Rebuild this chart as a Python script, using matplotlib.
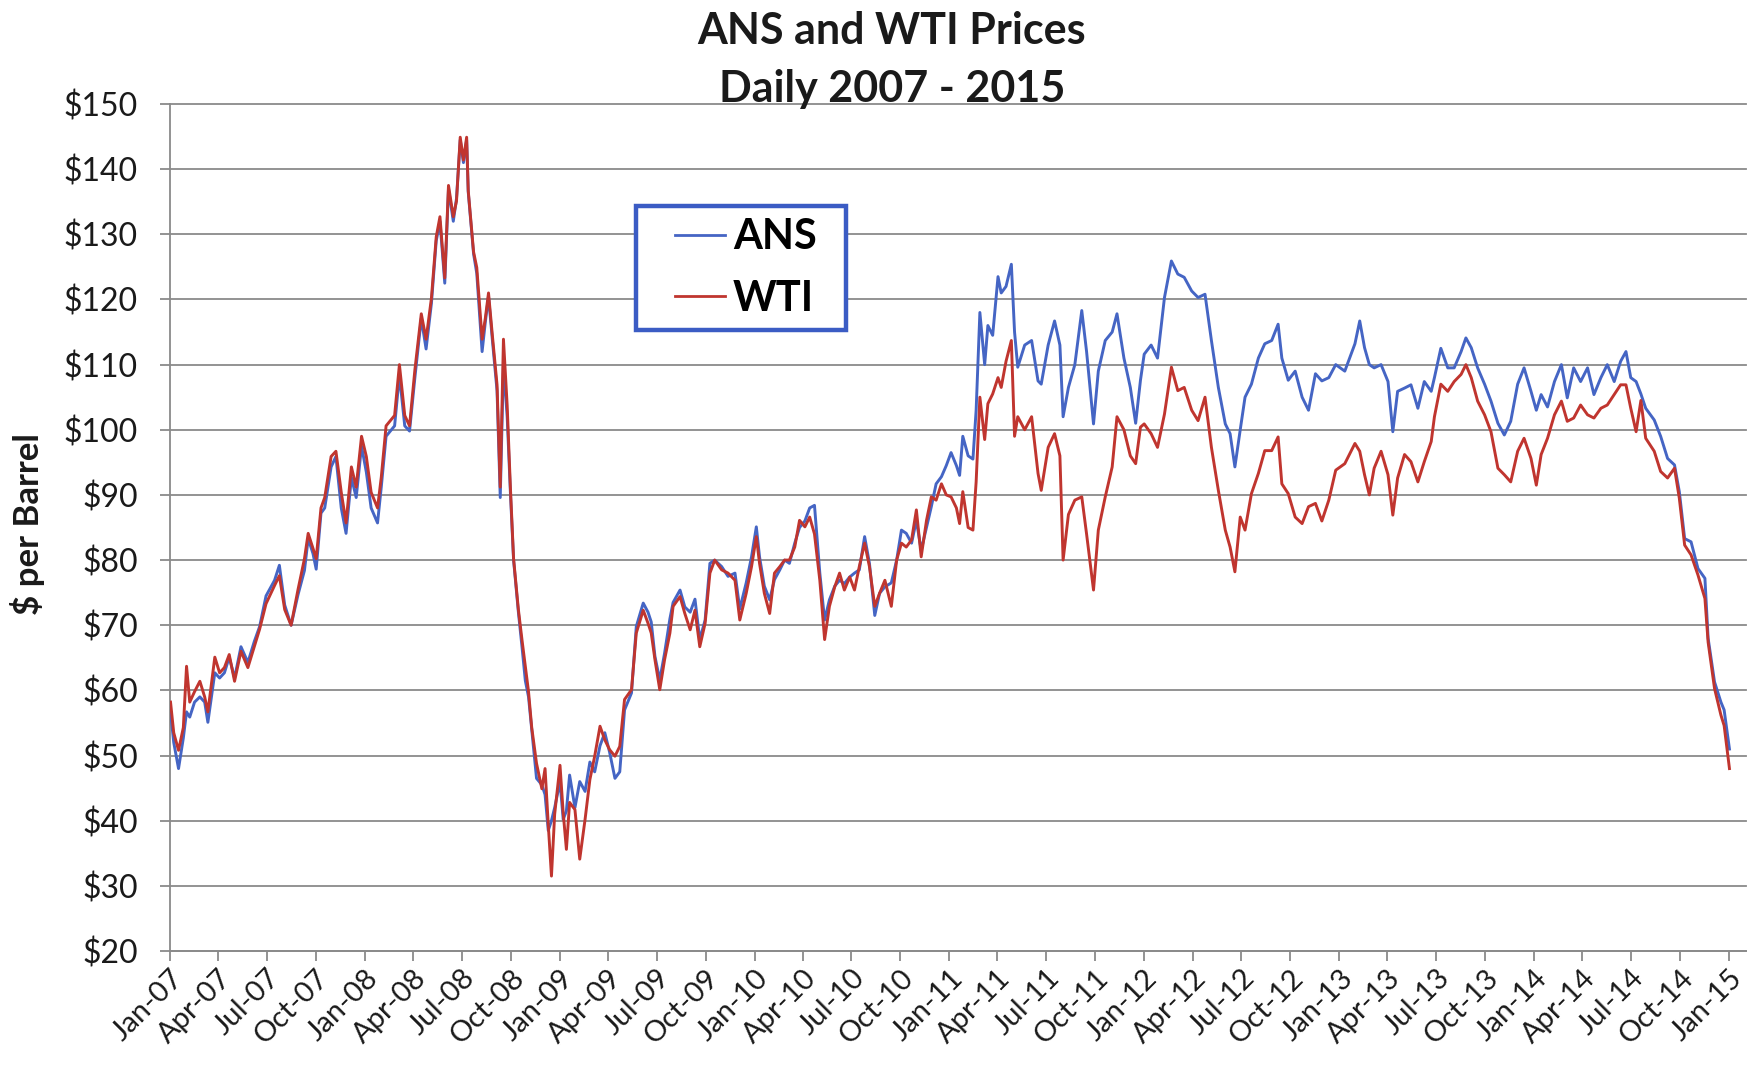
import matplotlib
matplotlib.use("Agg")
import matplotlib.pyplot as plt
import matplotlib.dates as mdates
from matplotlib.ticker import FuncFormatter
from matplotlib.patches import Rectangle
import pandas as pd

plt.rcParams['text.parse_math'] = False
plt.rcParams['font.family'] = ['Lato', 'DejaVu Sans']

# ---------------- data ----------------
dates_07_08 = [
    "2007-01-02", "2007-01-08", "2007-01-17", "2007-01-26", "2007-02-01", "2007-02-07", "2007-02-16", "2007-02-26",
    "2007-03-07", "2007-03-13", "2007-03-26", "2007-04-04", "2007-04-13", "2007-04-22", "2007-05-02", "2007-05-14",
    "2007-05-27", "2007-06-08", "2007-06-18", "2007-06-30", "2007-07-16", "2007-07-25", "2007-08-04", "2007-08-16",
    "2007-08-29", "2007-09-10", "2007-09-17", "2007-09-26", "2007-10-02", "2007-10-11", "2007-10-18", "2007-10-30",
    "2007-11-08", "2007-11-18", "2007-11-27", "2007-12-07", "2007-12-16", "2007-12-26",
    "2008-01-04", "2008-01-13", "2008-01-25", "2008-02-01", "2008-02-10", "2008-02-26", "2008-03-06", "2008-03-16",
    "2008-03-25", "2008-04-04", "2008-04-16", "2008-04-25", "2008-05-05", "2008-05-14", "2008-05-21", "2008-05-30",
    "2008-06-06", "2008-06-15", "2008-06-21", "2008-06-28", "2008-07-04", "2008-07-10", "2008-07-13", "2008-07-23",
    "2008-07-29", "2008-08-08", "2008-08-14", "2008-08-20", "2008-08-27", "2008-09-05", "2008-09-11", "2008-09-17",
    "2008-09-24", "2008-09-30", "2008-10-06", "2008-10-15", "2008-10-22", "2008-10-28", "2008-11-03", "2008-11-09",
    "2008-11-18", "2008-11-28", "2008-12-04", "2008-12-10", "2008-12-16", "2008-12-22",
]
wti_07_08 = [
    58.2, 53.5, 50.8, 54.3, 63.7, 58.2, 59.8, 61.4,
    59.0, 56.7, 65.1, 62.7, 63.5, 65.5, 61.4, 66.0,
    63.5, 66.7, 69.4, 73.3, 76.1, 77.6, 72.4, 70.0,
    75.5, 80.2, 84.1, 81.8, 80.2, 88.0, 89.6, 95.9,
    96.7, 90.4, 85.7, 94.3, 91.2, 99.0,
    95.9, 90.4, 88.0, 92.7, 100.6, 102.2, 110.0, 102.2,
    100.6, 109.2, 117.8, 113.9, 120.2, 129.6, 132.7, 123.3,
    137.5, 132.7, 135.1, 144.9, 141.4, 144.9, 136.7, 127.3,
    124.9, 113.9, 117.1, 121.0, 114.7, 106.9, 91.2, 113.9,
    103.7, 91.2, 80.2, 72.4, 67.6, 63.7, 59.8, 54.3,
    48.8, 44.9, 48.0, 39.4, 31.5, 41.0,
]
ans_07_08 = [
    56.7, 52.0, 48.0, 52.7, 56.7, 55.9, 58.2, 59.0,
    58.2, 55.1, 62.7, 61.9, 62.7, 65.1, 61.9, 66.7,
    64.3, 67.5, 69.8, 74.5, 76.9, 79.2, 73.1, 70.0,
    74.7, 78.4, 83.3, 81.0, 78.6, 87.2, 88.0, 94.3,
    95.9, 88.0, 84.1, 92.7, 89.6, 97.5,
    93.5, 88.0, 85.7, 91.2, 99.0, 100.6, 108.4, 100.6,
    99.8, 108.0, 117.1, 112.4, 119.4, 129.0, 132.0, 122.5,
    137.0, 132.0, 135.5, 144.5, 141.0, 144.5, 136.5, 127.0,
    124.0, 112.0, 116.5, 120.5, 114.0, 106.0, 89.6, 110.0,
    102.0, 90.4, 80.0, 72.0, 66.5, 61.5, 59.0, 54.0,
    46.5, 45.5, 44.0, 38.5, 40.0, 42.0,
]

dates_09_10 = [
    "2009-01-01", "2009-01-07", "2009-01-13", "2009-01-19", "2009-01-29", "2009-02-07", "2009-02-17", "2009-02-26",
    "2009-03-07", "2009-03-17", "2009-03-26", "2009-04-04", "2009-04-14", "2009-04-23", "2009-05-02", "2009-05-15",
    "2009-05-24", "2009-06-06", "2009-06-15", "2009-06-21", "2009-06-28", "2009-07-07", "2009-07-16", "2009-07-26",
    "2009-08-01", "2009-08-14", "2009-08-23", "2009-09-02", "2009-09-11", "2009-09-20", "2009-09-30", "2009-10-09",
    "2009-10-18", "2009-10-31", "2009-11-12", "2009-11-25", "2009-12-04", "2009-12-16", "2009-12-26",
    "2010-01-04", "2010-01-10", "2010-01-19", "2010-01-29", "2010-02-07", "2010-02-17", "2010-02-26", "2010-03-07",
    "2010-03-17", "2010-03-26", "2010-04-05", "2010-04-14", "2010-04-23", "2010-05-03", "2010-05-12", "2010-05-21",
    "2010-05-31", "2010-06-09", "2010-06-18", "2010-06-28", "2010-07-07", "2010-07-16", "2010-07-26", "2010-08-04",
    "2010-08-14", "2010-08-23", "2010-09-02", "2010-09-14", "2010-09-24", "2010-10-03", "2010-10-12", "2010-10-22",
    "2010-10-31", "2010-11-09", "2010-11-19", "2010-11-28", "2010-12-07", "2010-12-17", "2010-12-26",
]
wti_09_10 = [
    48.5, 41.2, 35.6, 42.8, 41.7, 34.1, 40.2, 46.3,
    49.9, 54.5, 52.4, 50.9, 49.9, 51.4, 58.6, 60.1,
    68.8, 72.3, 70.3, 68.8, 64.7, 60.1, 64.7, 68.8,
    72.9, 74.4, 71.8, 69.3, 72.3, 66.7, 70.3, 78.0,
    80.0, 78.5, 78.0, 76.9, 70.8, 74.9, 79.0,
    83.6, 79.5, 74.9, 71.8, 78.0, 79.0, 80.0, 80.0,
    82.0, 86.1, 85.1, 86.6, 84.0, 76.9, 67.8, 72.9,
    75.9, 78.0, 75.4, 77.4, 75.4, 79.0, 82.6, 79.0,
    72.9, 74.9, 76.9, 72.9, 80.0, 82.6, 82.0, 83.1,
    87.7, 80.5, 86.1, 89.7, 89.2, 91.7, 90.0,
]
ans_09_10 = [
    46.0, 40.2, 41.5, 47.0, 42.0, 46.0, 44.5, 49.0,
    47.5, 51.5, 53.5, 50.5, 46.5, 47.5, 57.0, 59.6,
    69.8, 73.4, 72.0, 70.5, 65.2, 61.6, 65.7, 71.0,
    73.5, 75.4, 72.8, 72.0, 74.0, 67.8, 70.8, 79.5,
    80.0, 79.0, 77.5, 78.0, 72.5, 76.5, 80.5,
    85.1, 80.5, 76.0, 73.9, 77.0, 78.5, 80.0, 79.5,
    82.6, 85.0, 86.0, 88.0, 88.4, 78.0, 70.8, 73.9,
    76.0, 76.9, 76.4, 77.4, 78.0, 78.5, 83.6, 79.5,
    71.5, 74.9, 75.9, 76.5, 80.0, 84.6, 84.1, 82.6,
    86.1, 81.5, 85.0, 88.2, 91.7, 92.8, 94.5,
]

dates_11_12 = [
    "2011-01-04", "2011-01-14", "2011-01-20", "2011-01-26", "2011-02-05", "2011-02-14", "2011-02-20", "2011-02-27",
    "2011-03-08", "2011-03-14", "2011-03-23", "2011-04-02", "2011-04-08", "2011-04-17", "2011-04-27", "2011-05-03",
    "2011-05-09", "2011-05-22", "2011-06-04", "2011-06-16", "2011-06-22", "2011-07-05", "2011-07-17", "2011-07-27",
    "2011-08-02", "2011-08-12", "2011-08-24", "2011-09-06", "2011-09-15", "2011-09-28", "2011-10-07", "2011-10-20",
    "2011-11-02", "2011-11-11", "2011-11-24", "2011-12-06", "2011-12-16", "2011-12-25",
    "2012-01-01", "2012-01-14", "2012-01-26", "2012-02-08", "2012-02-21", "2012-03-04", "2012-03-16", "2012-03-30",
    "2012-04-11", "2012-04-24", "2012-05-06", "2012-05-19", "2012-06-01", "2012-06-10", "2012-06-19", "2012-06-29",
    "2012-07-08", "2012-07-20", "2012-08-02", "2012-08-14", "2012-08-27", "2012-09-08", "2012-09-15", "2012-09-27",
    "2012-10-10", "2012-10-23", "2012-11-04", "2012-11-17", "2012-11-29", "2012-12-12", "2012-12-25",
]
wti_11_12 = [
    89.7, 88.0, 85.6, 90.5, 85.0, 84.6, 92.0, 105.0,
    98.5, 104.0, 105.5, 108.0, 106.5, 110.5, 113.7, 99.0,
    102.0, 100.0, 102.0, 93.3, 90.7, 97.3, 99.4, 96.0,
    80.0, 87.0, 89.2, 89.7, 84.0, 75.4, 84.6, 89.7,
    94.3, 102.0, 100.0, 96.0, 94.8, 100.4,
    100.9, 99.4, 97.3, 102.4, 109.6, 106.0, 106.5, 103.0,
    101.4, 105.0, 97.3, 90.7, 84.6, 82.0, 78.2, 86.6,
    84.6, 90.2, 93.3, 96.8, 96.8, 98.9, 91.7, 90.2,
    86.6, 85.6, 88.2, 88.7, 86.0, 89.2, 93.8,
]
ans_11_12 = [
    96.5, 94.5, 93.0, 99.0, 96.0, 95.5, 103.0, 118.0,
    110.0, 116.0, 114.5, 123.5, 121.0, 122.0, 125.4, 115.0,
    109.6, 113.0, 113.7, 107.5, 107.0, 113.0, 116.7, 113.0,
    102.0, 106.5, 110.0, 118.3, 112.0, 100.9, 109.0, 113.7,
    115.0, 117.8, 111.0, 106.5, 101.0, 107.6,
    111.6, 113.0, 111.0, 120.3, 125.9, 123.9, 123.4, 121.3,
    120.3, 120.8, 113.7, 106.5, 100.9, 99.4, 94.3, 100.0,
    105.0, 107.0, 111.0, 113.2, 113.7, 116.2, 111.0, 107.6,
    109.0, 105.0, 103.0, 108.6, 107.5, 108.0, 110.0,
]

dates_13_15 = [
    "2013-01-11", "2013-01-30", "2013-02-08", "2013-02-17", "2013-02-26", "2013-03-07", "2013-03-20", "2013-04-02",
    "2013-04-11", "2013-04-20", "2013-05-03", "2013-05-15", "2013-05-28", "2013-06-09", "2013-06-22", "2013-06-28",
    "2013-07-10", "2013-07-23", "2013-08-04", "2013-08-17", "2013-08-26", "2013-09-05", "2013-09-17", "2013-09-30",
    "2013-10-12", "2013-10-25", "2013-11-06", "2013-11-18", "2013-12-01", "2013-12-13", "2013-12-26",
    "2014-01-05", "2014-01-14", "2014-01-26", "2014-02-08", "2014-02-21", "2014-03-04", "2014-03-16", "2014-03-29",
    "2014-04-11", "2014-04-23", "2014-05-06", "2014-05-18", "2014-05-31", "2014-06-12", "2014-06-22", "2014-07-01",
    "2014-07-11", "2014-07-20", "2014-07-29", "2014-08-14", "2014-08-26", "2014-09-08", "2014-09-21", "2014-09-30",
    "2014-10-10", "2014-10-22", "2014-11-04", "2014-11-17", "2014-11-23", "2014-12-05", "2014-12-17", "2014-12-23",
    "2015-01-02",
]
wti_13_15 = [
    94.8, 97.9, 96.7, 93.1, 90.0, 94.1, 96.7, 93.1,
    86.9, 92.6, 96.2, 95.1, 92.0, 95.1, 98.2, 102.0,
    107.0, 105.9, 107.4, 108.5, 110.0, 108.0, 104.4, 102.3,
    99.7, 94.1, 93.1, 92.0, 96.7, 98.7, 95.6,
    91.5, 96.2, 98.7, 102.3, 104.4, 101.3, 101.8, 103.8,
    102.3, 101.8, 103.3, 103.8, 105.4, 106.9, 106.9, 103.3,
    99.7, 104.5, 98.7, 96.7, 93.6, 92.6, 94.1, 89.5,
    82.3, 80.8, 77.7, 74.1, 67.4, 60.3, 56.2, 54.6,
    48.0,
]
ans_13_15 = [
    109.0, 113.2, 116.7, 112.6, 110.0, 109.5, 110.0, 107.4,
    99.7, 105.9, 106.4, 106.9, 103.3, 107.4, 105.9, 108.0,
    112.5, 109.5, 109.5, 112.0, 114.1, 112.6, 109.5, 107.0,
    104.4, 101.0, 99.2, 101.3, 107.0, 109.5, 105.9,
    103.0, 105.4, 103.5, 107.4, 110.0, 104.9, 109.5, 107.4,
    109.5, 105.4, 108.0, 110.0, 107.4, 110.5, 112.0, 108.0,
    107.4, 105.5, 103.3, 101.5, 99.0, 95.6, 94.6, 90.5,
    83.3, 82.8, 78.7, 77.2, 68.0, 61.3, 58.2, 57.0,
    51.0,
]

y_ticks = [20, 30, 40, 50, 60, 70, 80, 90, 100, 110, 120, 130, 140, 150]
series_labels = ["ANS", "WTI"]
title_text = "ANS and WTI Prices\nDaily 2007 - 2015"
y_label = "$ per Barrel"

# ---------------- assemble ----------------
dates = pd.to_datetime(dates_07_08 + dates_09_10 + dates_11_12 + dates_13_15)
wti = wti_07_08 + wti_09_10 + wti_11_12 + wti_13_15
ans = ans_07_08 + ans_09_10 + ans_11_12 + ans_13_15

BLUE = "#4565c4"
RED = "#c0352f"
GRID = "#8a8a8a"
W, H = 1749, 1076

fig = plt.figure(figsize=(17.49, 10.76), dpi=100)
ax = fig.add_axes([170 / W, 1 - 951 / H, (1746 - 170) / W, (951 - 104) / H])

ax.plot(dates, ans, color=BLUE, lw=2.1, label=series_labels[0], zorder=3)
ax.plot(dates, wti, color=RED, lw=2.1, label=series_labels[1], zorder=4)

ax.set_ylim(y_ticks[0], y_ticks[-1])
ax.set_xlim(pd.Timestamp("2007-01-01"), pd.Timestamp("2015-02-02"))
ax.set_yticks(y_ticks)
ax.yaxis.set_major_formatter(FuncFormatter(lambda v, p: f"${v:.0f}"))

ax.xaxis.set_major_locator(mdates.MonthLocator(bymonth=[1, 4, 7, 10]))
ax.xaxis.set_major_formatter(mdates.DateFormatter("%b-%y"))

ax.grid(axis="y", color=GRID, lw=1.3)
ax.set_axisbelow(True)
for gl in ax.get_ygridlines():
    gl.set_clip_on(False)

for s in ["top", "right"]:
    ax.spines[s].set_visible(False)
for s in ["left", "bottom"]:
    ax.spines[s].set_color(GRID)
    ax.spines[s].set_linewidth(1.3)

ax.tick_params(axis="y", direction="out", length=7, width=1.3, color=GRID,
               labelsize=23, pad=16, labelcolor="#1a1a1a")
ax.tick_params(axis="x", direction="out", length=7, width=1.3, color=GRID,
               labelsize=21, pad=3, labelcolor="#1a1a1a")
for lbl in ax.get_xticklabels():
    lbl.set_rotation(45)
    lbl.set_ha("right")
    lbl.set_va("top")
    lbl.set_rotation_mode("anchor")

fig.text(892 / W, 1 - 60 / H, title_text, ha="center", va="center",
         fontsize=31, fontweight="bold", color="#1a1a1a", linespacing=1.55)
fig.text(28 / W, 1 - 524 / H, y_label, ha="center", va="center",
         rotation=90, fontsize=25, fontweight="bold", color="#1a1a1a")

# legend box (drawn inside the axes, above the data lines)
ax.add_patch(Rectangle((636 / W, 1 - 330 / H), 210 / W, 124 / H,
                       transform=fig.transFigure, facecolor="white",
                       edgecolor="#3b5cc4", lw=3.2, zorder=5, clip_on=False))
leg = ax.legend(loc="center left", bbox_to_anchor=(675 / W, 1 - 268 / H),
                bbox_transform=fig.transFigure, prop=dict(weight="bold", size=30),
                frameon=False, handlelength=1.2, handletextpad=0.19,
                borderpad=0, labelspacing=0.57, borderaxespad=0)
leg.set_zorder(6)
for line in leg.get_lines():
    line.set_linewidth(2.0)

fig.savefig("out.png", dpi=100, facecolor="white")
